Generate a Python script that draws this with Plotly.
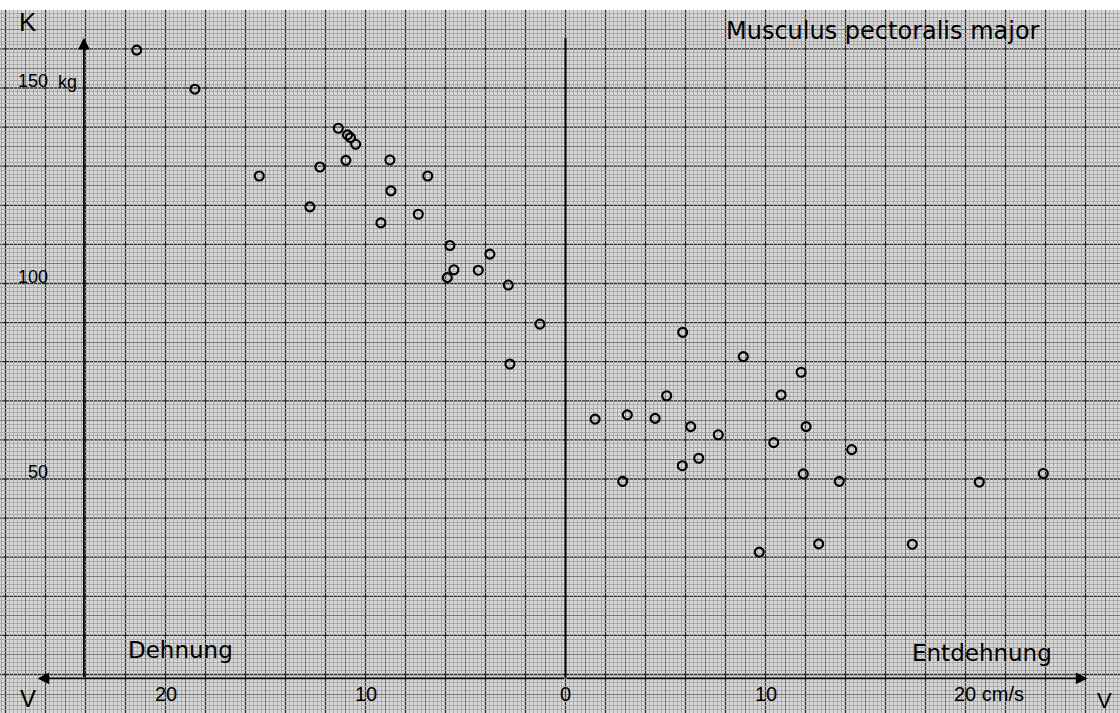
import numpy as np
import plotly.graph_objects as go

# ---------------- data ----------------
# velocity in cm/s: negative = Dehnung (left), positive = Entdehnung (right)
velocity = [-21.44, -18.53, -15.31, -12.78, -12.28, -11.36, -10.98, -10.90, -10.75, -10.49,
            -8.78, -8.73, -9.23, -6.89, -7.36, -5.78, -5.58, -5.91, -4.36, -3.78,
            -2.86, -1.28, -2.78,
            5.86, 8.89, 11.78, 5.06, 10.78, 1.48, 3.09, 4.48, 6.26, 7.64,
            12.03, 10.41, 14.31, 6.66, 5.84, 11.89, 2.86, 13.69, 12.66, 9.69,
            17.34, 20.69, 23.89]
# force K in kg
force = [159.7, 149.7, 127.5, 119.6, 129.8, 139.7, 131.5, 138.0, 137.3, 135.6,
         131.6, 123.7, 115.5, 127.5, 117.7, 109.7, 103.5, 101.5, 103.4, 107.5,
         99.6, 89.6, 79.4,
         87.5, 81.3, 77.3, 71.3, 71.5, 65.3, 66.4, 65.5, 63.4, 61.3,
         63.4, 59.3, 57.5, 55.3, 53.4, 51.3, 49.4, 49.4, 33.4, 31.3,
         33.3, 49.2, 51.4]

x_tick_vals = [-20, -10, 0, 10, 20]
x_tick_text = ["20", "10", "0", "10", "20 cm/s"]
y_tick_vals = [50, 100, 150]
y_tick_text = ["50", "100", "150"]
y_unit = "kg"

title_text = "Musculus pectoralis major"
left_label = "Dehnung"
right_label = "Entdehnung"

# ---------------- layout constants ----------------
W, H = 1120, 713
M_TOP = 10
X_RANGE = [-28.275, 27.725]
Y_RANGE = [-9.85, 169.95]
AXIS_Y = -1.0          # level of the V axis line
K_AXIS_X = -24.08      # position of the K axis line
AXIS_TOP = 162.85      # tip of the vertical arrows
LEFT_TIP, RIGHT_TIP = -26.4, 26.1

BG = "#d9d9d9"
FINE = "#a9a9a9"
MED = "#777777"
HEAVY = "#2a2a2a"
INK = "#000000"


def grid_vals(start, stop, step, exclude_step=None):
    vals = np.round(np.arange(start, stop + step / 2, step), 3)
    if exclude_step is None:
        return [float(v) for v in vals]
    return [float(v) for v in vals
            if abs(v / exclude_step - round(v / exclude_step)) > 1e-6]


fine_x = grid_vals(-28.2, 27.6, 0.2, 1.0)
med_x = grid_vals(-27, 27, 1, 2)
heavy_x = grid_vals(-28, 26, 2)
fine_y = grid_vals(-9, 169, 1, 5)
med_y = grid_vals(-5, 165, 5, 10)
heavy_y = grid_vals(0, 160, 10)


def pxx(px):
    return px / W


def pxy(py):
    return 1 - (py - M_TOP) / (H - M_TOP)


common = dict(showline=False, zeroline=False, showticklabels=False, ticks="",
              fixedrange=True)

fig = go.Figure()
fig.add_trace(go.Scatter(
    x=velocity, y=force, mode="markers",
    marker=dict(symbol="circle-open", size=9, color=INK, line=dict(width=2.1)),
    showlegend=False, hoverinfo="x+y"))

annotations = []
font_num = "Liberation Sans, Arial, sans-serif"
font_txt = "DejaVu Sans, sans-serif"

# x tick labels
for v, t in zip(x_tick_vals, x_tick_text):
    if "cm" in t:
        annotations.append(dict(x=v, y=-4.9, xref="x", yref="y", text=t, showarrow=False,
                                xanchor="left", yanchor="middle", xshift=-14,
                                font=dict(family=font_num, size=20, color=INK)))
    else:
        annotations.append(dict(x=v, y=-4.9, xref="x", yref="y", text=t, showarrow=False,
                                xanchor="center", yanchor="middle",
                                font=dict(family=font_num, size=20, color=INK)))
# y tick labels
for v, t in zip(y_tick_vals, y_tick_text):
    annotations.append(dict(x=pxx(50), y=v, xref="paper", yref="y", text=t, showarrow=False,
                            xanchor="right", yanchor="middle", yshift=7,
                            font=dict(family=font_num, size=18, color=INK)))
annotations.append(dict(x=pxx(56), y=y_tick_vals[-1], xref="paper", yref="y", text=y_unit,
                        showarrow=False, xanchor="left", yanchor="middle", yshift=6,
                        font=dict(family=font_num, size=18, color=INK)))

# axis letters and titles
annotations += [
    dict(x=pxx(28), y=pxy(22), xref="paper", yref="paper", text="K", showarrow=False,
         xanchor="center", yanchor="middle", font=dict(family=font_num, size=26, color=INK)),
    dict(x=pxx(28), y=pxy(698), xref="paper", yref="paper", text="V", showarrow=False,
         xanchor="center", yanchor="middle", font=dict(family=font_num, size=24, color=INK)),
    dict(x=pxx(1104), y=pxy(700), xref="paper", yref="paper", text="V", showarrow=False,
         xanchor="center", yanchor="middle", font=dict(family=font_num, size=22, color=INK)),
    dict(x=pxx(883), y=pxy(31), xref="paper", yref="paper", text=title_text, showarrow=False,
         xanchor="center", yanchor="middle", font=dict(family=font_txt, size=24, color=INK)),
    dict(x=pxx(180), y=pxy(650), xref="paper", yref="paper", text=left_label, showarrow=False,
         xanchor="center", yanchor="middle", font=dict(family=font_txt, size=23, color=INK)),
    dict(x=pxx(982), y=pxy(653), xref="paper", yref="paper", text=right_label, showarrow=False,
         xanchor="center", yanchor="middle", font=dict(family=font_txt, size=23, color=INK)),
]

# axis arrows
arrow_style = dict(showarrow=True, arrowhead=2, arrowsize=1.3, arrowwidth=1.8,
                   arrowcolor=INK, text="", standoff=0, xref="x", yref="y",
                   axref="x", ayref="y")
annotations += [
    dict(x=LEFT_TIP, y=AXIS_Y, ax=0, ay=AXIS_Y, **arrow_style),
    dict(x=RIGHT_TIP, y=AXIS_Y, ax=0, ay=AXIS_Y, **arrow_style),
    dict(x=K_AXIS_X, y=AXIS_TOP, ax=K_AXIS_X, ay=AXIS_Y, **arrow_style),
]

# heavy graph-paper lines (below the data)
shapes = []
for v in heavy_x:
    shapes.append(dict(type="line", xref="x", yref="paper", x0=v, x1=v, y0=0, y1=1,
                       layer="below", line=dict(color=HEAVY, width=1.3)))
for v in heavy_y:
    shapes.append(dict(type="line", xref="paper", yref="y", x0=0, x1=1, y0=v, y1=v,
                       layer="below", line=dict(color=HEAVY, width=1.3)))
shapes.append(dict(type="line", xref="x", yref="y", x0=0, x1=0, y0=AXIS_Y, y1=AXIS_TOP,
                   line=dict(color=INK, width=2)))

fig.update_layout(
    width=W, height=H, autosize=False,
    margin=dict(l=0, r=0, t=M_TOP, b=0, pad=0),
    paper_bgcolor="white", plot_bgcolor=BG,
    xaxis=dict(range=X_RANGE, tickmode="array", tickvals=med_x, showgrid=True,
               gridcolor=MED, gridwidth=1,
               minor=dict(tickmode="array", tickvals=fine_x, showgrid=True,
                          gridcolor=FINE, gridwidth=1, ticks=""),
               **common),
    yaxis=dict(range=Y_RANGE, tickmode="array", tickvals=med_y, showgrid=True,
               gridcolor=MED, gridwidth=1,
               minor=dict(tickmode="array", tickvals=fine_y, showgrid=True,
                          gridcolor=FINE, gridwidth=1, ticks=""),
               **common),
    annotations=annotations,
    shapes=shapes,
    showlegend=False,
)

fig.write_html("out.html")
